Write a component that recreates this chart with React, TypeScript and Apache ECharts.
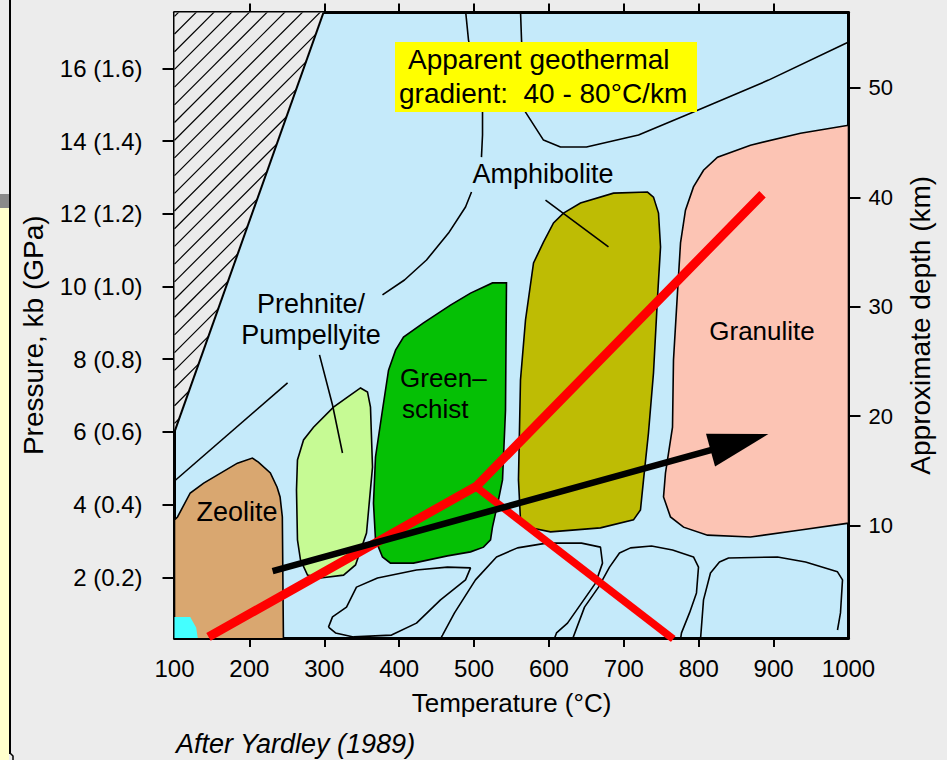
import React, { useEffect, useRef } from "react";
import * as echarts from "echarts";

const FONT = "'Liberation Sans', Arial, Helvetica, sans-serif";

// Axis ticks / labels
const tempTicks = [100, 200, 300, 400, 500, 600, 700, 800, 900, 1000];
const innerTempTicks = [200, 300, 400, 500, 600, 700, 800, 900];
const pressureTicks = [2, 4, 6, 8, 10, 12, 14, 16];
const depthTicks = [10, 20, 30, 40, 50];

// Regions [T (°C), P (kb)]
const hatchRegion = [[100, 17.6], [300, 17.6], [100, 6.0]];
const zeolite = [[100, 0.2], [100, 3.58], [104, 3.66], [121, 4.32], [139, 4.59], [157, 4.81], [184, 5.14], [204, 5.28], [212, 5.17], [228, 4.87], [237, 4.48], [241, 4.21], [244, 3.66], [245.5, 0.2]];
const cyanPatch = [[100, 0.2], [100, 0.91], [121, 0.91], [129, 0.61], [132, 0.2]];
const prehnite = [[348.4, 7.21], [357.7, 7.1], [361.7, 6.68], [364.4, 5.03], [360.4, 4.13], [356.4, 3.22], [341.7, 2.34], [325.7, 2.06], [295, 1.98], [277.6, 2.06], [268.2, 2.48], [264.2, 3.03], [262.9, 4.4], [264.2, 5.23], [272.3, 5.78], [285.6, 6.13], [312.3, 6.68], [331, 6.96]];
const greenschist = [[524.6, 10.1], [543.3, 10.1], [542, 6.6], [538, 4.68], [532.6, 4.13], [524.6, 3.38], [522, 3.03], [512.6, 2.83], [495.3, 2.7], [464.5, 2.59], [419.1, 2.39], [388.4, 2.39], [377.7, 2.56], [368.4, 3.03], [365.7, 4.04], [368.4, 5.31], [377.7, 6.6], [385.8, 7.7], [395.2, 8.25], [405.8, 8.61], [432.5, 9.0], [468.5, 9.49], [495.3, 9.82]];
const amphibolite = [[619.4, 12.02], [642.1, 12.3], [686.2, 12.57], [731.6, 12.6], [739.6, 12.46], [746.3, 12.02], [749, 11.09], [745, 9.71], [739.6, 7.62], [732.9, 5.97], [726.3, 4.68], [722.2, 3.85], [712.9, 3.58], [668.8, 3.36], [602.1, 3.25], [575.4, 3.36], [562, 3.58], [559.3, 4.68], [562, 7.43], [568.7, 9.08], [579.4, 10.65], [592.7, 11.22], [606.1, 11.75]];
const granulite = [[1000, 14.44], [935.9, 14.22], [869.1, 13.89], [825.1, 13.56], [806.4, 13.2], [793, 12.74], [782.3, 12.1], [775.7, 11.2], [771.6, 9.82], [766.3, 7.98], [765, 6.13], [755.6, 4.87], [753, 4.21], [762.3, 3.66], [779.7, 3.38], [811.7, 3.16], [869.1, 3.11], [935.9, 3.3], [1000, 3.49]];

// Thin boundary lines
const lowLeftLine = [[100, 4.65], [251, 7.35]];
const prehniteLeader = [[293.6, 8.12], [311, 6.74], [324.3, 5.42]];
const amphiboliteLeader = [[595.4, 12.38], [679.5, 11.09]];
const boundaryUpper = [[488.6, 17.6], [492.6, 16.78], [503.3, 15.68], [511.3, 14.8], [511.3, 14.17], [509.9, 13.56]];
const boundaryLower = [[496.6, 12.6], [488.6, 12.19], [465.9, 11.47], [436.5, 10.73], [407.1, 10.18], [377.7, 9.77]];
const boundaryRight = [[562, 17.6], [563.4, 16.78], [568.7, 14.8], [592.7, 14.03], [615.4, 13.84], [650.1, 13.84], [719.6, 14.17], [789, 14.77], [893.2, 15.68], [997.3, 16.7], [1000, 16.73]];
const loopA = [[305.6, 0.63], [311, 0.91], [329.7, 1.18], [343, 1.73], [371.1, 1.98], [423.1, 2.2], [464.5, 2.28], [495.3, 2.26], [488.6, 1.93], [455.2, 1.38], [423.1, 0.74], [389.8, 0.41], [339, 0.36], [315, 0.47], [305.6, 0.63]];
const loopB = [[455, 0.3], [457.9, 0.41], [473.9, 1.02], [501.9, 1.93], [530, 2.56], [558, 2.81], [596.7, 2.94], [643.5, 2.94], [668.8, 2.83], [671.5, 2.39], [662.2, 1.84], [643.5, 1.29], [624.8, 0.74], [610.1, 0.47], [607, 0.3]];
const loopC = [[631.5, 0.3], [647.5, 1.18], [666.2, 1.73], [680.9, 2.28], [694.2, 2.67], [708.9, 2.81], [737, 2.86], [765, 2.75], [793, 2.56], [799.7, 2.28], [797, 1.57], [787.7, 1.02], [777, 0.47], [775.7, 0.3]];
const loopD = [[802.4, 0.3], [806.4, 1.38], [815.7, 2.12], [827.7, 2.42], [839.8, 2.53], [905.2, 2.56], [942.6, 2.42], [985.3, 2.15], [992, 1.93], [989.3, 1.02], [985.3, 0.55]];

// Geotherm paths
const redGradient = [[145.4, 0.36], [503.3, 4.51], [885.2, 12.54]];
const redBranch = [[503.3, 4.48], [766, 0.3]];
const arrowPath = [[231, 2.17], [893, 5.94]];

function polygonSeries(name: string, pts: number[][], fill: string, stroke: string | null, z = 2) {
  return {
    type: "custom",
    name,
    coordinateSystem: "cartesian2d",
    clip: true,
    silent: true,
    z,
    data: pts,
    encode: { x: 0, y: 1 },
    renderItem: (params: any, api: any) => {
      if (params.dataIndex !== 0) return null;
      const points = pts.map((p) => api.coord(p));
      return {
        type: "polygon",
        shape: { points },
        style: { fill, stroke: stroke || "none", lineWidth: stroke ? 1.6 : 0 },
      };
    },
  };
}

function hatchSeries() {
  return {
    type: "custom",
    name: "hatch",
    coordinateSystem: "cartesian2d",
    clip: true,
    silent: true,
    z: 2,
    data: hatchRegion,
    encode: { x: 0, y: 1 },
    renderItem: (params: any, api: any) => {
      if (params.dataIndex !== 0) return null;
      const poly: number[][] = hatchRegion.map((p) => api.coord(p));
      const sums = poly.map((p) => p[0] + p[1]);
      const lo = Math.min(...sums);
      const hi = Math.max(...sums);
      const step = 17.7;
      const children: any[] = [
        { type: "polygon", shape: { points: poly }, style: { fill: "#EBEBEB", stroke: "none" } },
      ];
      for (let c = lo + 6; c < hi; c += step) {
        const hits: number[][] = [];
        for (let i = 0; i < poly.length; i++) {
          const a = poly[i];
          const b = poly[(i + 1) % poly.length];
          const sa = a[0] + a[1] - c;
          const sb = b[0] + b[1] - c;
          if (sa === sb) continue;
          if ((sa <= 0 && sb >= 0) || (sa >= 0 && sb <= 0)) {
            const t = sa / (sa - sb);
            hits.push([a[0] + t * (b[0] - a[0]), a[1] + t * (b[1] - a[1])]);
          }
        }
        if (hits.length >= 2) {
          hits.sort((p, q) => p[0] - q[0]);
          const p1 = hits[0];
          const p2 = hits[hits.length - 1];
          children.push({
            type: "line",
            shape: { x1: p1[0], y1: p1[1], x2: p2[0], y2: p2[1] },
            style: { stroke: "#000", lineWidth: 1.2 },
          });
        }
      }
      children.push({
        type: "polyline",
        shape: { points: [poly[1], poly[2]] },
        style: { stroke: "#000", lineWidth: 2, fill: "none" },
      });
      return { type: "group", children };
    },
  };
}

function thinLine(name: string, pts: number[][]) {
  return {
    type: "line",
    name,
    data: pts,
    symbol: "none",
    silent: true,
    z: 3,
    clip: true,
    lineStyle: { color: "#000", width: 1.6 },
  };
}

function redLine(name: string, pts: number[][], width: number) {
  return {
    type: "line",
    name,
    data: pts,
    symbol: "none",
    silent: true,
    z: 4,
    clip: true,
    lineStyle: { color: "#FF0000", width, cap: "butt", join: "miter" },
  };
}

function arrowSeries() {
  return {
    type: "custom",
    name: "P-T path",
    coordinateSystem: "cartesian2d",
    clip: true,
    silent: true,
    z: 5,
    data: arrowPath,
    encode: { x: 0, y: 1 },
    renderItem: (params: any, api: any) => {
      if (params.dataIndex !== 0) return null;
      const a = api.coord(arrowPath[0]);
      const b = api.coord(arrowPath[1]);
      const dx = b[0] - a[0];
      const dy = b[1] - a[1];
      const len = Math.hypot(dx, dy);
      const ux = dx / len;
      const uy = dy / len;
      const headLen = 60;
      const headHalf = 17;
      const base = [b[0] - ux * headLen, b[1] - uy * headLen];
      const px = -uy;
      const py = ux;
      return {
        type: "group",
        children: [
          {
            type: "line",
            shape: { x1: a[0], y1: a[1], x2: base[0] + ux * 4, y2: base[1] + uy * 4 },
            style: { stroke: "#000", lineWidth: 6.5 },
          },
          {
            type: "polygon",
            shape: {
              points: [
                b,
                [base[0] + px * headHalf, base[1] + py * headHalf],
                [base[0] - px * headHalf, base[1] - py * headHalf],
              ],
            },
            style: { fill: "#000" },
          },
        ],
      };
    },
  };
}

function txt(text: string, x: number, y: number, size: number, align = "center", extra: any = {}) {
  return {
    type: "text",
    x,
    y,
    z: 100,
    silent: true,
    style: {
      text,
      fontSize: size,
      fontFamily: FONT,
      fill: "#000",
      align,
      verticalAlign: "middle",
      ...extra,
    },
  };
}

export default function App() {
  const ref = useRef<HTMLDivElement>(null);
  useEffect(() => {
    if (!ref.current) return;
    const chart = echarts.init(ref.current, undefined, { renderer: "svg" });
    const axisLine = { show: true, onZero: false, lineStyle: { color: "#000", width: 3 } };
    const option: any = {
      animation: false,
      backgroundColor: "#ECECEC",
      grid: {
        left: 174.5,
        top: 12.5,
        width: 674,
        height: 625.5,
        show: true,
        backgroundColor: "#C5EAFA",
        borderWidth: 0,
        containLabel: false,
        outerBoundsMode: "none",
      },
      xAxis: [
        {
          type: "value",
          position: "bottom",
          min: 100,
          max: 1000,
          interval: 100,
          axisLine,
          axisTick: { show: true, length: 9, customValues: innerTempTicks, lineStyle: { color: "#000", width: 2 } },
          axisLabel: {
            customValues: tempTicks,
            formatter: (v: number) => String(v),
            color: "#000",
            fontSize: 24,
            margin: 18,
            fontFamily: FONT,
          },
          splitLine: { show: false },
          name: "Temperature (°C)",
          nameLocation: "middle",
          nameGap: 52,
          nameTextStyle: { color: "#000", fontSize: 26, fontFamily: FONT },
        },
        {
          type: "value",
          position: "top",
          min: 100,
          max: 1000,
          interval: 100,
          axisLine,
          axisTick: { show: true, length: 9, customValues: innerTempTicks, lineStyle: { color: "#000", width: 2 } },
          axisLabel: { show: false },
          splitLine: { show: false },
        },
      ],
      yAxis: [
        {
          type: "value",
          position: "left",
          min: 0.33,
          max: 17.54,
          axisLine,
          axisTick: { show: true, length: 12, customValues: pressureTicks, lineStyle: { color: "#000", width: 2 } },
          axisLabel: {
            customValues: pressureTicks,
            formatter: (v: number) => `${v} (${(v / 10).toFixed(1)})`,
            color: "#000",
            fontSize: 24,
            margin: 32,
            fontFamily: FONT,
          },
          splitLine: { show: false },
          name: "Pressure, kb (GPa)",
          nameLocation: "middle",
          nameGap: 127,
          nameTextStyle: { color: "#000", fontSize: 28, fontFamily: FONT, padding: [0, 20, 0, 0] },
        },
        {
          type: "value",
          position: "right",
          min: -0.27,
          max: 56.9,
          axisLine,
          axisTick: { show: true, length: 12, customValues: depthTicks, lineStyle: { color: "#000", width: 2 } },
          axisLabel: {
            customValues: depthTicks,
            formatter: (v: number) => String(v),
            color: "#000",
            fontSize: 22,
            margin: 20,
            fontFamily: FONT,
          },
          splitLine: { show: false },
          name: "Approximate depth (km)",
          nameLocation: "middle",
          nameGap: 58,
          nameTextStyle: { color: "#000", fontSize: 28, fontFamily: FONT },
        },
      ],
      series: [
        hatchSeries(),
        polygonSeries("Zeolite", zeolite, "#D9A770", "#000"),
        polygonSeries("cyan", cyanPatch, "#44FFFF", null),
        polygonSeries("Prehnite/Pumpellyite", prehnite, "#C6FA94", "#000"),
        polygonSeries("Greenschist", greenschist, "#05C005", "#000"),
        polygonSeries("Amphibolite", amphibolite, "#BEBC04", "#000"),
        polygonSeries("Granulite", granulite, "#FCC4B4", "#000"),
        thinLine("b1", lowLeftLine),
        thinLine("b2", prehniteLeader),
        thinLine("b3", amphiboliteLeader),
        thinLine("b4", boundaryUpper),
        thinLine("b5", boundaryLower),
        thinLine("b6", boundaryRight),
        thinLine("b7", loopA),
        thinLine("b8", loopB),
        thinLine("b9", loopC),
        thinLine("b10", loopD),
        redLine("gradient", redGradient, 9),
        redLine("branch", redBranch, 7.5),
        arrowSeries(),
      ],
      graphic: [
        { type: "rect", z: 100, silent: true, shape: { x: 0, y: 208, width: 9, height: 552 }, style: { fill: "#FFFFCC" } },
        { type: "rect", z: 100, silent: true, shape: { x: 0, y: 194, width: 9, height: 14 }, style: { fill: "#8A8A8A" } },
        { type: "line", z: 100, silent: true, shape: { x1: 10, y1: 0, x2: 10, y2: 754 }, style: { stroke: "#000", lineWidth: 2 } },
        { type: "polyline", z: 100, silent: true, shape: { points: [[10, 753], [13, 756], [13, 760]] }, style: { stroke: "#000", lineWidth: 1.5, fill: "none" } },
        { type: "rect", z: 100, silent: true, shape: { x: 395, y: 42, width: 302, height: 70 }, style: { fill: "#FFFF00" } },
        txt("Apparent geothermal", 408, 59, 28, "left"),
        txt("gradient:  40 - 80°C/km", 399, 93, 28, "left"),
        txt("Zeolite", 237, 512, 27),
        txt("Prehnite/", 311, 304, 27),
        txt("Pumpellyite", 311, 335, 27),
        txt("Green–", 400, 378, 26, "left"),
        txt("schist", 402, 409, 26, "left"),
        txt("Amphibolite", 543, 174, 27),
        txt("Granulite", 762, 331, 26),
        txt("After Yardley (1989)", 176, 744, 27, "left", { fontStyle: "italic" }),
      ],
    };
    chart.setOption(option);
    return () => chart.dispose();
  }, []);
  return <div ref={ref} style={{ position: "fixed", left: 0, top: 0, width: 947, height: 760 }} />;
}
